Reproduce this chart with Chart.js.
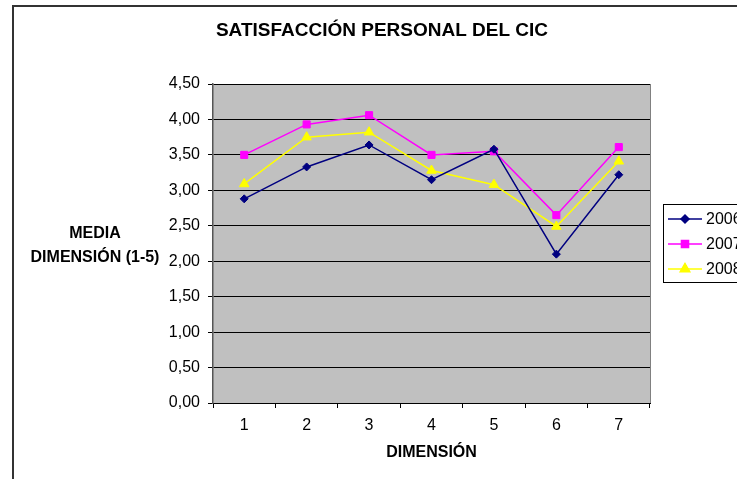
<!DOCTYPE html>
<html>
<head>
<meta charset="utf-8">
<script src="https://cdn.jsdelivr.net/npm/chart.js@4/dist/chart.umd.min.js"></script>
<style>
  html, body { margin: 0; padding: 0; background: #fff; }
  #wrap { position: relative; width: 737px; height: 479px; overflow: hidden; }
  #frame { position: absolute; left: 12px; top: 5px; width: 760px; height: 520px;
           border: 2px solid #333; box-sizing: border-box; pointer-events: none; }
  #c { position: absolute; left: 0; top: 0; }
</style>
</head>
<body>
<div id="wrap">
  <canvas id="c" width="760" height="479"></canvas>
  <div id="frame"></div>
</div>
<script>
// data
const dimensions = ['1', '2', '3', '4', '5', '6', '7'];
const years = ['2006', '2007', '2008'];
const values2006 = [2.88, 3.33, 3.64, 3.15, 3.58, 2.10, 3.22];
const values2007 = [3.50, 3.93, 4.06, 3.50, 3.55, 2.65, 3.61];
const values2008 = [3.09, 3.75, 3.82, 3.28, 3.08, 2.49, 3.41];
const yTicks = [0, 0.5, 1, 1.5, 2, 2.5, 3, 3.5, 4, 4.5];

const chartTitle = 'SATISFACCIÓN PERSONAL DEL CIC';
const yTitle = ['MEDIA', 'DIMENSIÓN (1-5)'];
const xTitle = 'DIMENSIÓN';

const FONT = '"Liberation Sans", Arial, sans-serif';

const fmt = v => v.toFixed(2).replace('.', ',');

// gray plot background + right border, like the Excel original
const plotBg = {
  id: 'plotBg',
  beforeDraw(chart) {
    const { ctx, chartArea: a } = chart;
    ctx.save();
    ctx.fillStyle = '#C0C0C0';
    ctx.fillRect(a.left, a.top, a.right - a.left, a.bottom - a.top);
    ctx.restore();
  },
  beforeDatasetsDraw(chart) {
    const { ctx, chartArea: a } = chart;
    ctx.save();
    ctx.strokeStyle = '#808080';
    ctx.lineWidth = 1;
    ctx.beginPath();
    ctx.moveTo(a.right + 0.5, a.top);
    ctx.lineTo(a.right + 0.5, a.bottom);
    ctx.stroke();
    ctx.restore();
  }
};

// titles and legend box
const texts = {
  id: 'texts',
  afterDraw(chart) {
    const { ctx, chartArea: a } = chart;
    ctx.save();
    ctx.fillStyle = '#000';
    ctx.textAlign = 'center';
    ctx.textBaseline = 'middle';
    ctx.font = 'bold 19px ' + FONT;
    ctx.fillText(chartTitle, 382, 31);
    ctx.font = 'bold 16px ' + FONT;
    ctx.fillText(yTitle[0], 95, 234);
    ctx.fillText(yTitle[1], 95, 258);
    ctx.fillText(xTitle, (a.left + a.right) / 2, 453);

    // legend
    const lx = 663, ly = 204, lh = 78;
    ctx.fillStyle = '#fff';
    ctx.fillRect(lx, ly, 120, lh);
    ctx.strokeStyle = '#000';
    ctx.lineWidth = 1;
    ctx.strokeRect(lx + 0.5, ly + 0.5, 120, lh);
    ctx.textAlign = 'left';
    ctx.font = '16px ' + FONT;
    chart.data.datasets.forEach((ds, i) => {
      const y = 219 + i * 25;
      ctx.strokeStyle = ds.borderColor;
      ctx.lineWidth = 1.5;
      ctx.beginPath();
      ctx.moveTo(668, y);
      ctx.lineTo(702, y);
      ctx.stroke();
      Chart.helpers.drawPoint(ctx, {
        pointStyle: ds.pointStyle, radius: ds.pointRadius, borderWidth: 1
      }, 685, y);
      ctx.fillStyle = ds.pointBackgroundColor;
      ctx.strokeStyle = ds.borderColor;
      ctx.fill();
      ctx.fillStyle = '#000';
      ctx.fillText(ds.label, 706, y + 1);
    });
    ctx.restore();
  }
};

function series(label, data, color, style, r) {
  return {
    label, data,
    borderColor: color,
    backgroundColor: color,
    pointBackgroundColor: color,
    pointBorderColor: color,
    borderWidth: 1.5,
    pointStyle: style,
    pointRadius: r,
    pointBorderWidth: 1,
    tension: 0
  };
}

new Chart(document.getElementById('c'), {
  type: 'line',
  data: {
    labels: dimensions,
    datasets: [
      series(years[0], values2006, '#000080', 'rectRot', 4),
      series(years[1], values2007, '#FF00FF', 'rect', 5),
      series(years[2], values2008, '#FFFF00', 'triangle', 5.5)
    ]
  },
  options: {
    responsive: false,
    animation: false,
    layout: { padding: { left: 150, top: 84, right: 110, bottom: 0 } },
    plugins: { legend: { display: false }, title: { display: false }, tooltip: { enabled: false } },
    scales: {
      x: {
        offset: true,
        afterFit(s) { s.height = 76; },
        grid: { offset: true, drawOnChartArea: false, drawTicks: true, tickLength: 5, color: '#000' },
        border: { color: '#000', width: 1 },
        ticks: { color: '#000', padding: 8, font: { family: FONT, size: 16 }, maxRotation: 0 }
      },
      y: {
        min: 0, max: 4.5,
        afterFit(s) { s.width = 63; },
        afterBuildTicks(s) { s.ticks = yTicks.map(v => ({ value: v })); },
        grid: { color: '#000', lineWidth: 1, drawTicks: true, tickLength: 5, tickColor: '#000' },
        border: { color: '#555', width: 1.5 },
        ticks: { color: '#000', padding: 8, font: { family: FONT, size: 16 }, callback: v => fmt(v) }
      }
    }
  },
  plugins: [plotBg, texts]
});
</script>
</body>
</html>
